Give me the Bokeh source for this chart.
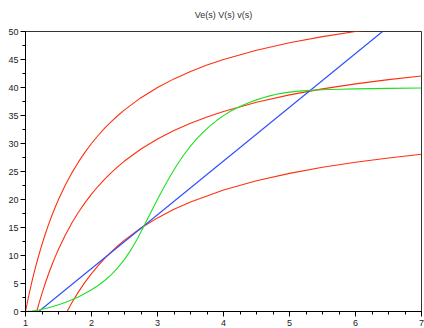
from bokeh.plotting import figure
from bokeh.models import SingleIntervalTicker, Range1d
from bokeh.embed import file_html
from bokeh.resources import INLINE

# ---- data ----
title_text = "Ve(s) V(s) v(s)"

r1_x = [1.0, 1.05, 1.1, 1.15, 1.2, 1.25, 1.3, 1.35, 1.4, 1.45, 1.5, 1.6, 1.7, 1.8, 1.9,
        2.0, 2.1, 2.2, 2.3, 2.4, 2.5, 2.75, 3.0, 3.25, 3.5, 3.75, 4.0, 4.5, 5.0, 5.5,
        6.0, 6.5, 7.0]
r1_y = [0.0, 2.857, 5.455, 7.826, 10.0, 12.0, 13.846, 15.556, 17.143, 18.621, 20.0, 22.5,
        24.706, 26.667, 28.421, 30.0, 31.429, 32.727, 33.913, 35.0, 36.0, 38.182, 40.0,
        41.538, 42.857, 44.0, 45.0, 46.667, 48.0, 49.091, 50.0, 50.769, 51.429]

r2_x = [1.17, 1.2, 1.25, 1.3, 1.35, 1.4, 1.45, 1.5, 1.6, 1.7, 1.8, 1.9, 2.0, 2.1, 2.2,
        2.3, 2.4, 2.5, 2.75, 3.0, 3.25, 3.5, 3.75, 4.0, 4.5, 5.0, 5.5, 6.0, 6.5, 7.0]
r2_y = [0.0, 1.263, 3.232, 5.05, 6.733, 8.296, 9.752, 11.11, 13.572, 15.744, 17.675,
        19.403, 20.958, 22.364, 23.643, 24.811, 25.881, 26.866, 29.015, 30.805, 32.32,
        33.619, 34.744, 35.729, 37.37, 38.683, 39.757, 40.653, 41.41, 42.059]

r3_x = [1.63, 1.7, 1.8, 1.9, 2.0, 2.1, 2.2, 2.3, 2.4, 2.5, 2.75, 3.0, 3.25, 3.5, 4.0,
        4.5, 5.0, 5.5, 6.0, 6.5, 7.0]
r3_y = [0.0, 1.507, 3.457, 5.201, 6.771, 8.191, 9.483, 10.662, 11.743, 12.737, 14.906,
        16.714, 18.244, 19.555, 21.686, 23.343, 24.668, 25.753, 26.657, 27.422, 28.077]

blue_x = [1.2, 6.41]
blue_y = [0.0, 50.0]

green_x = [1.0, 1.1, 1.2, 1.3, 1.4, 1.5, 1.6, 1.7, 1.8, 1.9, 2.0, 2.1, 2.2, 2.3, 2.4,
           2.5, 2.6, 2.7, 2.8, 2.9, 3.0, 3.1, 3.2, 3.3, 3.4, 3.5, 3.6, 3.7, 3.8, 3.9,
           4.0, 4.1, 4.2, 4.3, 4.4, 4.5, 4.6, 4.7, 4.8, 4.9, 5.0, 5.1, 5.2, 5.32, 5.5,
           5.77, 6.0, 6.5, 7.0]
green_y = [0.0, 0.1, 0.27, 0.55, 0.84, 1.22, 1.62, 2.1, 2.6, 3.2, 3.87, 4.65, 5.54, 6.6,
           7.84, 9.3, 11.04, 13.09, 15.39, 17.74, 20.04, 22.24, 24.32, 26.24, 27.99, 29.54,
           30.91, 32.11, 33.18, 34.14, 34.98, 35.70, 36.34, 36.88, 37.36, 37.79, 38.17,
           38.5, 38.78, 39.0, 39.17, 39.3, 39.4, 39.5, 39.6, 39.7, 39.76, 39.85, 39.9]

RED = "#ff3010"
BLUE = "#2a4dff"
GREEN = "#1ee01e"

p = figure(width=424, height=328, output_backend="svg", toolbar_location=None,
           x_range=Range1d(1, 7), y_range=Range1d(0, 50),
           min_border_left=25, min_border_right=3, min_border_top=31, min_border_bottom=17)

p.title.text = title_text
p.title.align = "center"
p.title.vertical_align = "top"
p.title.standoff = 19
p.title.text_font = "Liberation Sans"
p.title.text_font_size = "9px"
p.title.text_font_style = "normal"
p.title.text_color = "#333333"

p.xgrid.visible = False
p.ygrid.visible = False
p.outline_line_color = "#333333"
p.outline_line_width = 1

for ax, tk in ((p.xaxis[0], SingleIntervalTicker(interval=1, num_minor_ticks=4)),
               (p.yaxis[0], SingleIntervalTicker(interval=5, num_minor_ticks=2))):
    ax.ticker = tk
    ax.axis_line_color = "black"
    ax.major_tick_line_color = "black"
    ax.minor_tick_line_color = "black"
    ax.major_tick_in = 0
    ax.major_tick_out = 5
    ax.minor_tick_in = 0
    ax.minor_tick_out = 3
    ax.major_label_text_font = "Liberation Sans"
    ax.major_label_text_font_size = "9px"
    ax.major_label_text_color = "#222222"
p.xaxis.major_label_standoff = 3
p.yaxis.major_label_standoff = 2

p.line(r1_x, r1_y, line_color=RED, line_width=1.1)
p.line(r2_x, r2_y, line_color=RED, line_width=1.1)
p.line(r3_x, r3_y, line_color=RED, line_width=1.1)
p.line(blue_x, blue_y, line_color=BLUE, line_width=1.1)
p.line(green_x, green_y, line_color=GREEN, line_width=1.1)

open("out.html", "w").write(file_html(p, INLINE))
